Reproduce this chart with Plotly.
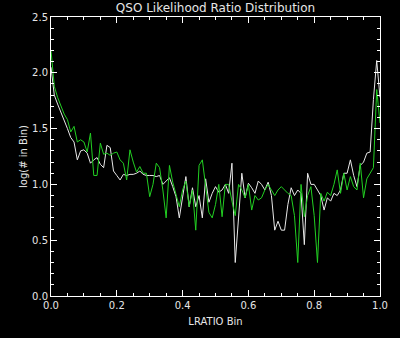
import plotly.graph_objects as go

lratio_bins = [round(i * 0.01, 2) for i in range(101)]

white_series = [
    2.05, 1.80, 1.72, 1.65, 1.58, 1.50, 1.42, 1.38, 1.22, 1.30,
    1.31, 1.28, 1.19, 1.22, 1.24, 1.18, 1.15, 1.35, 1.33, 1.12,
    1.08, 1.04, 1.09, 1.08, 1.09, 1.09, 1.10, 1.12, 1.09, 1.08,
    1.08, 1.08, 1.07, 1.08, 1.00, 1.03, 1.06, 0.98, 0.89, 0.70,
    0.88, 1.07, 0.80, 0.97, 0.80, 0.90, 0.70, 1.05, 0.84, 0.92,
    0.98, 0.93, 0.95, 1.00, 0.92, 1.19, 0.30, 0.72, 1.10, 0.88,
    1.01, 0.97, 0.92, 1.03, 1.00, 0.95, 1.02, 0.90, 0.59, 0.67,
    0.59, 0.59, 0.82, 0.97, 0.90, 0.95, 0.92, 0.46, 1.10, 1.00,
    1.00, 0.95, 0.90, 0.77, 0.88, 0.85, 0.92, 0.90, 0.95, 1.10,
    1.10, 1.22, 1.08, 0.98, 1.17, 1.20, 1.28, 1.29, 1.76, 2.11,
    1.78,
]

green_series = [
    2.20, 1.88, 1.78, 1.70, 1.63, 1.58, 1.47, 1.52, 1.38, 1.40,
    1.38, 1.29, 1.46, 1.08, 1.08, 1.37, 1.27, 1.28, 1.26, 1.28,
    1.29, 1.22, 1.19, 1.04, 1.31, 1.20, 1.11, 1.16, 1.10, 1.10,
    0.89, 1.00, 1.19, 1.15, 0.95, 0.70, 1.17, 1.02, 0.92, 0.80,
    0.95, 1.03, 0.80, 0.95, 0.59, 1.17, 1.22, 0.96, 0.75, 0.70,
    0.82, 1.00, 0.71, 1.00, 1.00, 0.85, 0.72, 1.00, 0.95, 0.88,
    1.00, 0.77, 0.90, 0.86, 0.88, 0.95, 1.00, 0.95, 0.90, 0.95,
    0.98, 0.95, 0.92, 0.90, 0.72, 0.30, 1.00, 0.71, 0.90, 0.98,
    0.72, 0.30, 0.92, 0.85, 0.93, 0.90, 1.00, 1.13, 0.92, 1.10,
    0.95, 1.07, 0.98, 0.95, 1.19, 0.88, 1.05, 1.10, 1.15, 1.85,
    1.55,
]

x_ticks = [0.0, 0.2, 0.4, 0.6, 0.8, 1.0]
y_ticks = [0.0, 0.5, 1.0, 1.5, 2.0, 2.5]

font_family = "DejaVu Sans"
text_color = "#e6e6e6"

fig = go.Figure()
fig.add_trace(go.Scatter(x=lratio_bins, y=white_series, mode="lines",
                         line=dict(color="#e8e8e8", width=1), showlegend=False))
fig.add_trace(go.Scatter(x=lratio_bins, y=green_series, mode="lines",
                         line=dict(color="#22d022", width=1), showlegend=False))

axis_common = dict(
    showgrid=False, zeroline=False, showline=True, linecolor="white", linewidth=1,
    mirror="allticks", ticks="inside", ticklen=6, tickcolor="white", tickwidth=1,
    tickfont=dict(family=font_family, size=10, color=text_color),
)

fig.update_xaxes(
    range=[0, 1], tickvals=x_ticks, ticktext=[f"{v:.1f}" for v in x_ticks],
    minor=dict(dtick=0.05, ticks="inside", ticklen=3, tickcolor="white", showgrid=False),
    title=dict(text="LRATIO Bin", font=dict(family=font_family, size=10, color=text_color), standoff=7),
    **axis_common,
)
fig.update_yaxes(
    range=[0, 2.5], tickvals=y_ticks, ticktext=[f"{v:.1f}" for v in y_ticks],
    minor=dict(dtick=0.1, ticks="inside", ticklen=3, tickcolor="white", showgrid=False),
    title=dict(text="log(# in Bin)", font=dict(family=font_family, size=10, color=text_color), standoff=2),
    **axis_common,
)

fig.update_layout(
    width=400, height=338,
    paper_bgcolor="black", plot_bgcolor="black",
    margin=dict(l=51, r=20, t=17, b=42),
    title=dict(text="QSO Likelihood Ratio Distribution", x=(51 + 380) / 2 / 400, xanchor="center",
               y=1 - 8 / 338, yanchor="middle",
               font=dict(family=font_family, size=12, color=text_color)),
)

fig.write_html("out.html")
